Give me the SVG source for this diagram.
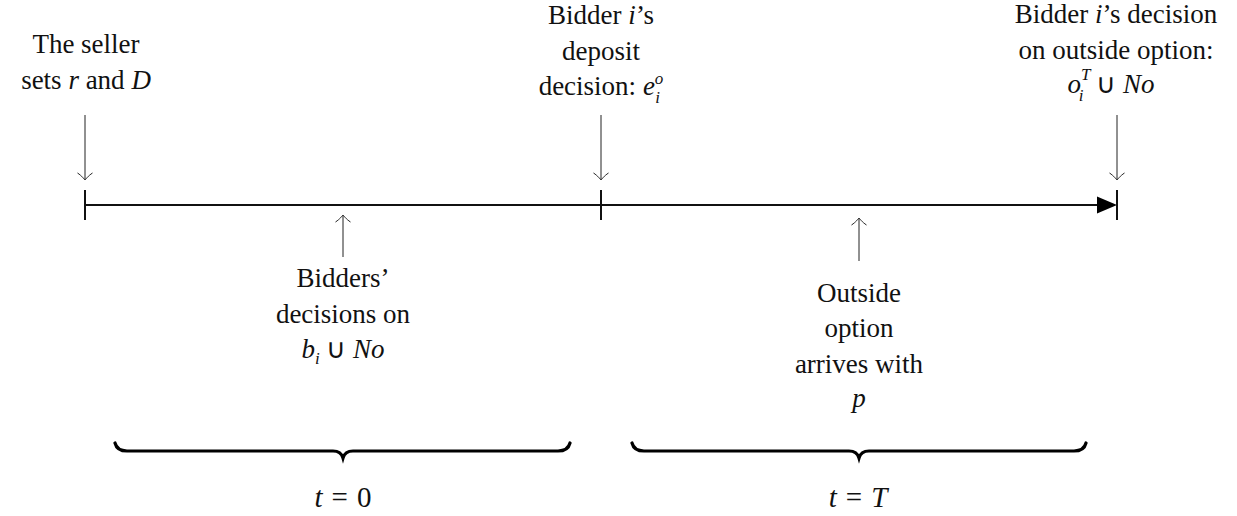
<svg xmlns="http://www.w3.org/2000/svg" width="1237" height="516" viewBox="0 0 1237 516">
<style>
.t{font-family:'Liberation Serif','Times New Roman',serif;font-size:27px;fill:#111;text-anchor:middle}
.m{font-style:italic}
.s{font-size:17px;font-style:italic}
.eq{font-size:29px}
.thin{stroke:#222;stroke-width:1;fill:none}
.axis{stroke:#111;stroke-width:2;fill:none}
.brace{stroke:#000;stroke-width:3.2;fill:none;stroke-linecap:round}
</style>
<defs>
<marker id="to" markerUnits="userSpaceOnUse" markerWidth="20" markerHeight="20" viewBox="-10 -10 20 20" refX="0" refY="0" orient="auto">
<path d="M-7,-7.5 C-4,-3 -1,-1 0,0 C-1,1 -4,3 -7,7.5" fill="none" stroke="#222" stroke-width="1"/>
</marker>
</defs>
<g id="timeline">
<line class="axis" x1="85" y1="205" x2="1110" y2="205"/>
<path d="M1097,196.5 L1117,205 L1097,213.5 Z" fill="#000"/>
<line class="axis" x1="85" y1="190" x2="85" y2="220"/>
<line class="axis" x1="601" y1="190" x2="601" y2="220"/>
<line class="axis" x1="1117" y1="190" x2="1117" y2="220"/>
</g>
<g id="connectors">
<line class="thin" x1="85" y1="115" x2="85" y2="180" marker-end="url(#to)"/>
<line class="thin" x1="601" y1="115" x2="601" y2="180" marker-end="url(#to)"/>
<line class="thin" x1="1117" y1="115" x2="1117" y2="180" marker-end="url(#to)"/>
<line class="thin" x1="343" y1="257" x2="343" y2="215" marker-end="url(#to)"/>
<line class="thin" x1="859" y1="261" x2="859" y2="218" marker-end="url(#to)"/>
</g>
<g class="t">
<g id="seller">
<text x="86" y="53">The seller</text>
<text x="86" y="89">sets <tspan class="m">r</tspan> and <tspan class="m">D</tspan></text>
</g>
<g id="deposit">
<text x="601" y="95">decision:  <tspan class="m">e</tspan><tspan class="s" dy="-11">o</tspan><tspan class="s" dx="-8" dy="19">i</tspan></text>
<text x="601" y="24">Bidder <tspan class="m">i</tspan>’s</text>
<text x="601" y="60">deposit</text>
</g>
<g id="outside-decision">
<text x="1116" y="23">Bidder <tspan class="m">i</tspan>’s decision</text>
<text x="1116" y="59">on outside option:</text>
<text x="1111" y="93"><tspan class="m">o</tspan><tspan class="s" dy="-13">T</tspan><tspan class="s" dx="-11" dy="21">i</tspan><tspan dx="6" dy="-8"> ∪ </tspan><tspan class="m">No</tspan></text>
</g>
<g id="bids">
<text x="343" y="287">Bidders’</text>
<text x="343" y="323">decisions on</text>
<text x="343" y="358"><tspan class="m">b</tspan><tspan class="s" dy="6">i</tspan><tspan dy="-6"> ∪ </tspan><tspan class="m">No</tspan></text>
</g>
<g id="outside-arrival">
<text x="859" y="302">Outside</text>
<text x="859" y="337">option</text>
<text x="859" y="373">arrives with</text>
<text x="859" y="407" class="m">p</text>
</g>
<g id="period0">
<text class="eq" x="343" y="507"><tspan class="m">t</tspan><tspan dx="9">=</tspan><tspan dx="9">0</tspan></text>
</g>
<g id="periodT">
<text class="eq" x="858" y="507"><tspan class="m">t</tspan><tspan dx="9">=</tspan><tspan dx="9" class="m">T</tspan></text>
</g>
</g>
<g id="braces">
<path class="brace" d="M115,443 Q117,451 127,451 H333 Q341,451 343,458 Q345,451 353,451 H558 Q568,451 570,443"/>
<path class="brace" d="M632,443 Q634,451 644,451 H849 Q857,451 859,458 Q861,451 869,451 H1074 Q1084,451 1086,443"/>
</g>
</svg>
